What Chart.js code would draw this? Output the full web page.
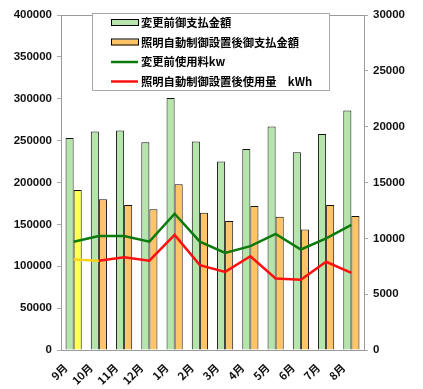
<!DOCTYPE html>
<html>
<head>
<meta charset="utf-8">
<script src="https://cdn.jsdelivr.net/npm/chart.js@4"></script>
<style>
  html, body { margin: 0; padding: 0; background: #fff; }
  #wrap { width: 423px; height: 389px; }
</style>
</head>
<body>
<div id="wrap"><canvas id="usageChart" width="423" height="389"></canvas></div>
<script>
// months (Sep -> Aug)
const months = ["9月", "10月", "11月", "12月", "1月", "2月", "3月", "4月", "5月", "6月", "7月", "8月"];

// payment amounts (left axis, yen)
const payBefore = [253000, 261000, 262000, 248000, 301000, 249000, 225000, 240000, 267000, 236000, 258000, 286000];
const payAfter = [191000, 180000, 173000, 168000, 198000, 164000, 154000, 172000, 159000, 144000, 173000, 160000];

// usage (right axis, kWh)
const useBefore = [9700, 10200, 10200, 9700, 12200, 9700, 8700, 9300, 10400, 9000, 10000, 11200];
const useAfter = [8100, 8000, 8300, 8000, 10300, 7600, 7000, 8400, 6400, 6300, 7900, 6900];

const labels = ["変更前御支払金額", "照明自動制御設置後御支払金額", "変更前使用料kw", "照明自動制御設置後使用量　kWh"];

const leftTicks = { max: 400000, step: 50000 };
const rightTicks = { max: 30000, step: 5000 };

const fontFam = "'Liberation Sans', Arial, sans-serif";
const jpFont = "'Noto Sans CJK JP', sans-serif";

// legend box drawn on the chart area (like the excel one)
const legendBoxPlugin = {
  id: "legendBox",
  afterDraw(chart) {
    const c = chart.ctx;
    const box = { x: 92.5, y: 13.5, w: 237, h: 77 };
    c.save();
    c.fillStyle = "#fff";
    c.fillRect(box.x, box.y, box.w, box.h);
    c.strokeStyle = "#aaa";
    c.lineWidth = 1;
    c.strokeRect(box.x, box.y, box.w, box.h);
    c.font = "bold 11.3px " + jpFont;
    c.textBaseline = "middle";
    chart.data.datasets.forEach((ds, i) => {
      const y = 23 + i * 19.5;
      if (ds.type === "bar") {
        c.fillStyle = Array.isArray(ds.backgroundColor) ? ds.backgroundColor[1] : ds.backgroundColor;
        c.fillRect(111, y - 3, 27, 6);
        c.strokeStyle = "#000";
        c.strokeRect(111.5, y - 3.5, 27, 6);
      } else {
        c.strokeStyle = ds.borderColor;
        c.lineWidth = 2.5;
        c.beginPath();
        c.moveTo(111, y);
        c.lineTo(138, y);
        c.stroke();
        c.lineWidth = 1;
      }
      c.fillStyle = "#000";
      c.fillText(ds.label, 141, y);
    });
    c.restore();
  }
};

// grey frame round the plot area
const framePlugin = {
  id: "frame",
  beforeDatasetsDraw(chart) {
    const a = chart.chartArea;
    const c = chart.ctx;
    c.save();
    c.strokeStyle = "#9a9a9a";
    c.lineWidth = 1;
    c.strokeRect(Math.round(a.left) + 0.5, Math.round(a.top) + 0.5, Math.round(a.right - a.left), Math.round(a.bottom - a.top));
    c.restore();
  }
};

const plainNum = v => String(v);

const ctx = document.getElementById("usageChart");
new Chart(ctx, {
  data: {
    labels: months,
    datasets: [
      {
        type: "bar",
        label: labels[0],
        data: payBefore,
        yAxisID: "y",
        backgroundColor: "#b5e5aa",
        borderColor: "#111",
        borderWidth: 1,
        order: 2,
        categoryPercentage: 0.64,
        barPercentage: 1.0
      },
      {
        type: "bar",
        label: labels[1],
        data: payAfter,
        yAxisID: "y",
        backgroundColor: payAfter.map((v, i) => i === 0 ? "#ffff55" : "#ffc466"),
        borderColor: "#111",
        borderWidth: 1,
        order: 2,
        categoryPercentage: 0.64,
        barPercentage: 1.0
      },
      {
        type: "line",
        label: labels[2],
        data: useBefore,
        yAxisID: "y1",
        borderColor: "#0b7a0b",
        borderWidth: 2.5,
        pointRadius: 0,
        tension: 0,
        order: 1
      },
      {
        type: "line",
        label: labels[3],
        data: useAfter,
        yAxisID: "y1",
        borderColor: "#ff1010",
        borderWidth: 2.5,
        pointRadius: 0,
        tension: 0,
        order: 0,
        segment: {
          borderColor: s => s.p0DataIndex === 0 ? "#f7d21a" : undefined
        }
      }
    ]
  },
  options: {
    responsive: false,
    animation: false,
    layout: { padding: { top: 15, left: 0, right: 0, bottom: 0 } },
    plugins: {
      legend: { display: false },
      tooltip: { enabled: false }
    },
    scales: {
      x: {
        grid: { display: false },
        border: { color: "#555" },
        ticks: {
          color: "#111",
          font: { family: jpFont, size: 11, weight: "bold" },
          minRotation: 45,
          maxRotation: 45,
          labelOffset: -8,
          padding: 3
        },
        afterFit(scale) { scale.height = 39; }
      },
      y: {
        position: "left",
        min: 0,
        max: leftTicks.max,
        grid: { drawOnChartArea: false, tickLength: 4, color: "#aaa" },
        border: { color: "#5a6a5a" },
        ticks: {
          stepSize: leftTicks.step,
          color: "#111",
          font: { family: fontFam, size: 11.5, weight: "bold" },
          padding: 5,
          callback: plainNum
        },
        afterFit(scale) { scale.width = 61; }
      },
      y1: {
        position: "right",
        min: 0,
        max: rightTicks.max,
        grid: { drawOnChartArea: false, tickLength: 4, color: "#aaa" },
        border: { color: "#9a9a9a" },
        ticks: {
          stepSize: rightTicks.step,
          color: "#111",
          font: { family: fontFam, size: 11.5, weight: "bold" },
          padding: 5,
          callback: plainNum
        },
        afterFit(scale) { scale.width = 59; }
      }
    }
  },
  plugins: [framePlugin, legendBoxPlugin]
});
</script>
</body>
</html>
